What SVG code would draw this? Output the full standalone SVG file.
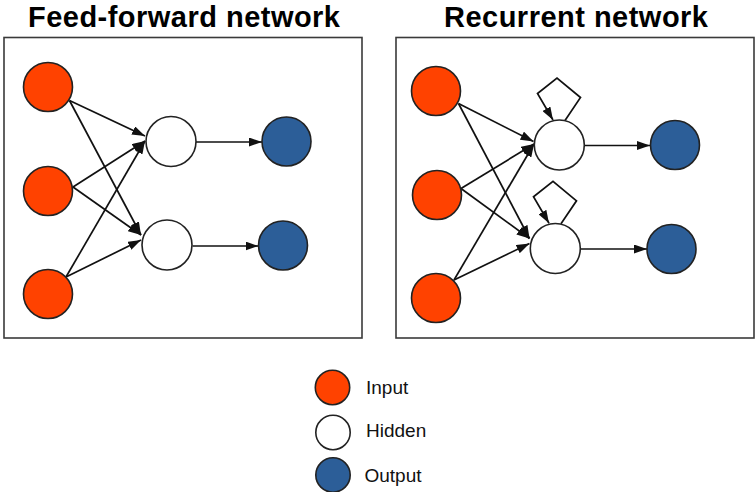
<svg xmlns="http://www.w3.org/2000/svg" width="756" height="492" viewBox="0 0 756 492">
  <style>
    .title { font-family: "Liberation Sans", Arial, sans-serif; font-weight: bold; font-size: 29px; fill: #000; }
    .label { font-family: "Liberation Sans", Arial, sans-serif; font-size: 19px; fill: #111; }
    .panel { fill: #fff; stroke: #3a3a3a; stroke-width: 1.6; }
    .node { stroke: #222; stroke-width: 1.6; }
    .in { fill: #ff4200; }
    .hid { fill: #fff; }
    .out { fill: #2c5e98; }
    .edge { fill: none; stroke: #111; stroke-width: 1.7; marker-end: url(#ah); }
  </style>
  <defs>
    <marker id="ah" markerWidth="13" markerHeight="9" refX="13" refY="4.5" orient="auto" markerUnits="userSpaceOnUse">
      <path d="M0,0 L13,4.5 L0,9 z" fill="#111"/>
    </marker>
  </defs>

  <rect width="756" height="492" fill="#fff"/>

  <!-- titles -->
  <text class="title" x="184" y="27" text-anchor="middle" textLength="312" lengthAdjust="spacing">Feed-forward network</text>
  <text class="title" x="576" y="27" text-anchor="middle" textLength="264" lengthAdjust="spacing">Recurrent network</text>

  <!-- panel frames -->
  <rect class="panel" x="4" y="37.5" width="358" height="300.5"/>
  <rect class="panel" x="396" y="37.5" width="358" height="300.5"/>

  <!-- connectors -->
  <g id="connectors">
    <!-- feed-forward -->
    <line class="edge" x1="69.5" y1="100.5" x2="145" y2="136"/>
    <line class="edge" x1="69.5" y1="100.5" x2="141" y2="235"/>
    <line class="edge" x1="73" y1="187" x2="145" y2="141"/>
    <line class="edge" x1="73" y1="187" x2="141" y2="235"/>
    <line class="edge" x1="66" y1="277" x2="145" y2="141"/>
    <line class="edge" x1="66" y1="277" x2="141" y2="240"/>
    <line class="edge" x1="196" y1="142" x2="262" y2="142"/>
    <line class="edge" x1="192.5" y1="246" x2="258.5" y2="246"/>
    <!-- recurrent -->
    <line class="edge" x1="458.5" y1="103.5" x2="533.5" y2="141.5"/>
    <line class="edge" x1="458.5" y1="103.5" x2="529.5" y2="238.5"/>
    <line class="edge" x1="461" y1="188.5" x2="534" y2="144"/>
    <line class="edge" x1="461" y1="188.5" x2="529.5" y2="238.5"/>
    <line class="edge" x1="454" y1="280" x2="534" y2="144"/>
    <line class="edge" x1="454" y1="280" x2="529.5" y2="243.5"/>
    <line class="edge" x1="584.3" y1="145.5" x2="650" y2="145.5"/>
    <line class="edge" x1="580.5" y1="249" x2="647" y2="249"/>
    <!-- self loops -->
    <polyline class="edge" points="565,120.5 580.5,97.5 557,78 537.5,93.5 553,120"/>
    <polyline class="edge" points="561,223.8 576.5,200.8 553,181.3 533.5,196.8 549,223.3"/>
  </g>

  <!-- feed-forward nodes -->
  <g id="ff-in1"><circle class="node in" cx="48" cy="87" r="24.5"/></g>
  <g id="ff-in2"><circle class="node in" cx="48" cy="191" r="24.5"/></g>
  <g id="ff-in3"><circle class="node in" cx="48" cy="294" r="24.5"/></g>
  <g id="ff-hid1"><circle class="node hid" cx="171" cy="141.5" r="25"/></g>
  <g id="ff-hid2"><circle class="node hid" cx="167" cy="245" r="25"/></g>
  <g id="ff-out1"><circle class="node out" cx="286.5" cy="141.5" r="24.5"/></g>
  <g id="ff-out2"><circle class="node out" cx="283" cy="245.5" r="24.5"/></g>

  <!-- recurrent nodes -->
  <g id="rn-in1"><circle class="node in" cx="436" cy="91" r="24.5"/></g>
  <g id="rn-in2"><circle class="node in" cx="437" cy="195" r="24.5"/></g>
  <g id="rn-in3"><circle class="node in" cx="436" cy="298" r="24.5"/></g>
  <g id="rn-hid1"><circle class="node hid" cx="559.3" cy="145" r="25"/></g>
  <g id="rn-hid2"><circle class="node hid" cx="555.3" cy="248.5" r="25"/></g>
  <g id="rn-out1"><circle class="node out" cx="675" cy="145" r="24.5"/></g>
  <g id="rn-out2"><circle class="node out" cx="671.5" cy="249" r="24.5"/></g>

  <!-- legend -->
  <g id="legend-input">
    <circle class="node in" cx="332.5" cy="387.5" r="17.2"/>
    <text class="label" x="366" y="394">Input</text>
  </g>
  <g id="legend-hidden">
    <circle class="node hid" cx="333" cy="432.5" r="17.2"/>
    <text class="label" x="366" y="437">Hidden</text>
  </g>
  <g id="legend-output">
    <circle class="node out" cx="333" cy="475" r="17.2"/>
    <text class="label" x="364.5" y="481.5">Output</text>
  </g>
</svg>
